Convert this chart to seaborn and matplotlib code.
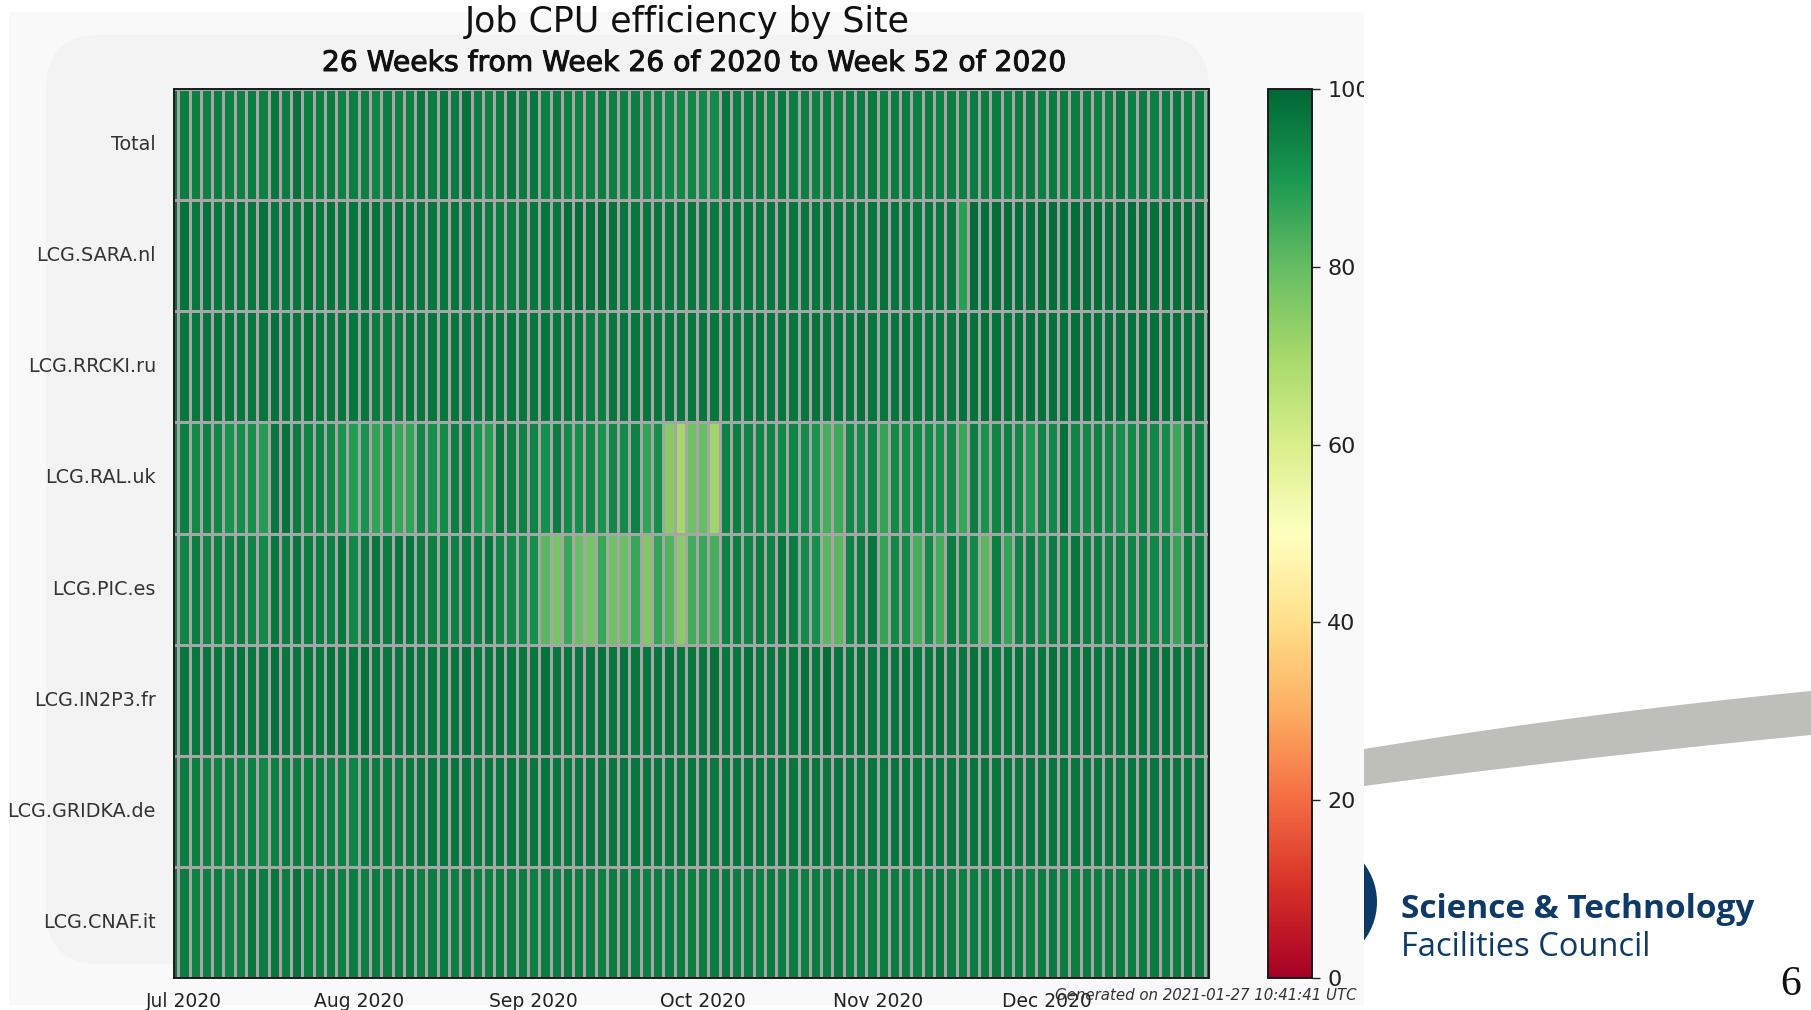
import numpy as np
import pandas as pd
import matplotlib
matplotlib.use("Agg")
import matplotlib.pyplot as plt
import matplotlib.patheffects as pe
from matplotlib.patches import Rectangle, FancyBboxPatch, Circle, Polygon
import seaborn as sns

# ---- data: CPU efficiency (%) per site, 2-day bins ----
sites = ["Total", "LCG.SARA.nl", "LCG.RRCKI.ru", "LCG.RAL.uk",
         "LCG.PIC.es", "LCG.IN2P3.fr", "LCG.GRIDKA.de", "LCG.CNAF.it"]

total = [96.7, 95.6, 95.0, 94.6, 95.6, 94.6, 94.2, 95.6, 94.6, 96.7,
         95.6, 97.3, 95.0, 95.6, 95.8, 94.6, 95.0, 95.3, 94.0, 95.5,
         94.5, 95.0, 96.5, 95.8, 96.5, 95.8, 97.3, 95.6, 94.2, 95.8,
         96.8, 95.8, 96.5, 95.0, 95.8, 95.0, 94.5, 94.8, 95.8, 95.3,
         94.8, 95.0, 94.0, 94.2, 93.2, 93.2, 93.4, 93.2, 92.7, 96.7,
         95.8, 95.6, 95.8, 95.2, 96.4, 95.6, 95.0, 94.8, 95.4, 95.2,
         95.8, 95.6, 96.2, 95.0, 95.4, 95.8, 95.2, 95.6, 94.8, 95.6,
         95.0, 96.0, 95.4, 95.8, 95.0, 95.6, 96.2, 95.2, 95.8, 96.0,
         95.4, 95.6, 95.2, 95.3, 96.5, 95.0, 95.6, 95.0, 95.8, 96.7,
         95.8, 95.6, 95.0]

sara = [98.5, 97.5, 97.0, 97.3, 96.8, 97.2, 97.0, 96.6, 97.4, 97.0,
        96.8, 97.2, 97.5, 96.9, 97.3, 96.7, 97.0, 97.3, 97.3, 96.7,
        97.3, 96.8, 97.0, 96.5, 96.8, 97.2, 96.9, 96.6, 95.8, 95.8,
        95.6, 96.5, 96.8, 97.0, 96.9, 98.5, 98.5, 98.3, 98.5, 97.5,
        97.0, 97.2, 96.8, 97.0, 96.5, 96.6, 96.5, 96.8, 96.4, 97.2,
        97.0, 96.8, 97.0, 96.8, 97.2, 96.6, 97.0, 96.9, 97.4, 96.8,
        97.1, 96.7, 97.0, 97.3, 96.9, 97.1, 96.8, 97.0, 97.2, 96.8,
        88.0, 98.6, 98.4, 98.8, 98.5, 98.7, 98.3, 98.6, 98.8, 98.4,
        98.6, 98.5, 98.7, 98.3, 98.6, 98.8, 98.5, 98.4, 98.7, 98.6,
        98.5, 98.8, 98.6]

rrcki = [97.5, 96.8, 97.2, 96.9, 97.4, 97.0, 96.6, 97.2, 96.9, 97.3,
         97.0, 96.8, 97.4, 97.1, 96.9, 97.2, 96.7, 96.7, 95.8, 95.8,
         95.8, 96.5, 96.8, 97.0, 96.6, 97.2, 96.9, 96.5, 97.0, 96.7,
         96.9, 97.2, 96.8, 97.0, 96.6, 96.9, 96.7, 95.6, 95.6, 96.8,
         97.0, 96.7, 97.2, 96.9, 97.1, 96.8, 97.0, 96.6, 96.9, 97.2,
         96.8, 97.0, 97.3, 96.9, 97.1, 96.7, 97.0, 97.4, 96.8, 97.2,
         96.9, 97.3, 97.0, 96.6, 97.1, 97.4, 96.9, 97.2, 97.0, 96.8,
         97.3, 97.5, 97.8, 98.0, 97.6, 97.9, 98.1, 97.7, 98.0, 97.8,
         98.2, 97.9, 98.0, 97.7, 98.1, 97.9, 98.0, 98.2, 97.8, 98.0,
         97.9, 98.1, 98.0]

ral = [95.0, 95.0, 93.0, 94.2, 93.7, 91.0, 92.0, 91.7, 89.0, 96.7,
       97.3, 95.8, 94.0, 94.2, 93.0, 91.0, 89.0, 91.0, 86.8, 90.8,
       86.0, 86.8, 93.2, 91.5, 92.9, 95.0, 95.8, 90.8, 89.0, 96.7,
       95.0, 94.2, 93.8, 91.5, 95.6, 92.9, 91.7, 93.2, 91.0, 93.3,
       92.7, 94.2, 86.8, 92.0, 74.3, 70.0, 78.2, 80.0, 71.0, 94.2,
       95.0, 94.0, 93.8, 94.0, 93.3, 94.0, 92.7, 91.0, 84.0, 85.4,
       93.0, 92.9, 94.0, 86.5, 92.7, 92.0, 93.3, 92.7, 91.7, 93.3,
       86.0, 95.6, 91.0, 93.8, 94.2, 93.3, 89.5, 94.0, 93.3, 97.3,
       94.0, 93.3, 94.2, 93.3, 91.7, 93.3, 94.2, 93.3, 92.9, 86.0,
       95.0, 95.0, 95.0]

pic = [95.0, 94.0, 95.6, 94.0, 95.0, 94.2, 95.6, 94.0, 92.9, 96.7,
       95.6, 96.5, 95.6, 95.6, 95.0, 96.5, 93.3, 95.6, 96.5, 95.8,
       96.5, 96.7, 95.6, 95.0, 95.6, 94.2, 95.6, 95.6, 96.7, 94.0,
       93.3, 92.9, 91.7, 81.4, 77.5, 86.0, 79.3, 77.5, 86.0, 78.2,
       79.3, 86.0, 75.7, 86.5, 82.5, 74.3, 84.5, 86.0, 84.0, 94.2,
       95.0, 94.0, 95.6, 94.2, 96.7, 95.6, 92.9, 91.7, 81.4, 81.4,
       94.2, 95.6, 96.7, 86.5, 93.3, 92.9, 84.0, 92.7, 84.6, 95.6,
       94.0, 93.3, 81.4, 95.0, 86.5, 94.2, 95.6, 93.3, 95.6, 95.0,
       96.7, 95.0, 95.6, 94.2, 95.0, 94.0, 94.2, 93.3, 94.0, 86.5,
       95.0, 95.0, 95.0]

in2p3 = [97.3, 96.8, 97.0, 96.5, 97.2, 96.9, 97.4, 96.7, 97.0, 97.5,
         96.8, 97.2, 96.6, 97.1, 97.4, 96.9, 97.0, 97.3, 96.8, 97.1,
         96.7, 97.4, 97.0, 96.8, 97.2, 96.9, 97.5, 97.0, 96.7, 97.3,
         96.9, 97.1, 96.6, 97.4, 96.8, 97.0, 97.2, 96.9, 97.6, 97.0,
         97.3, 96.8, 97.1, 96.9, 97.4, 97.2, 96.8, 97.0, 97.3, 96.7,
         97.1, 97.5, 96.9, 97.2, 97.0, 96.8, 97.4, 97.0, 98.5, 97.1,
         96.9, 97.3, 97.0, 96.7, 97.2, 97.5, 96.9, 97.1, 97.4, 96.8,
         97.0, 97.3, 96.9, 97.2, 97.0, 97.5, 96.8, 97.1, 97.4, 97.0,
         96.9, 97.3, 97.1, 96.8, 97.2, 97.4, 97.0, 96.9, 97.3, 97.1,
         97.0, 97.2, 97.4]

gridka = [96.5, 95.5, 95.0, 94.6, 94.2, 95.0, 94.4, 94.8, 93.4, 95.2,
          95.8, 95.4, 95.0, 95.6, 95.2, 94.8, 94.0, 95.6, 95.8, 96.0,
          95.8, 96.4, 96.8, 96.5, 97.0, 96.6, 96.9, 96.4, 96.8, 97.1,
          96.5, 96.9, 96.6, 97.0, 96.7, 96.4, 96.9, 97.2, 96.6, 96.8,
          97.0, 96.5, 96.9, 96.7, 97.1, 96.6, 96.8, 97.0, 96.4, 96.9,
          96.7, 97.2, 96.6, 96.9, 97.0, 96.5, 96.8, 97.1, 96.7, 96.9,
          96.6, 97.0, 96.8, 96.5, 97.1, 96.9, 96.7, 97.2, 96.8, 96.6,
          97.0, 96.9, 96.7, 97.1, 96.8, 96.5, 97.0, 96.9, 96.7, 97.2,
          96.8, 96.6, 97.0, 96.9, 97.1, 96.8, 97.0, 96.7, 97.2, 96.9,
          97.0, 96.8, 97.1]

cnaf = [97.0, 95.6, 94.2, 95.0, 95.8, 94.0, 94.6, 96.5, 95.6, 96.7,
        95.6, 97.3, 95.0, 95.6, 95.8, 95.0, 95.6, 95.2, 96.0, 95.4,
        95.8, 96.2, 95.0, 95.6, 95.9, 95.3, 96.1, 95.7, 95.2, 95.8,
        96.0, 95.5, 95.1, 95.9, 95.6, 96.2, 95.4, 95.8, 95.0, 95.7,
        96.1, 95.5, 95.3, 95.9, 95.6, 96.0, 95.2, 95.8, 95.5, 96.3,
        95.4, 95.7, 95.1, 95.9, 95.6, 96.0, 95.3, 95.8, 95.5, 96.1,
        95.2, 95.7, 95.9, 95.4, 96.0, 95.6, 95.2, 95.8, 96.1, 95.5,
        95.3, 95.9, 95.6, 96.2, 95.4, 95.7, 95.0, 95.8, 96.0, 95.5,
        95.3, 95.9, 95.6, 95.6, 95.8, 95.0, 95.6, 95.8, 95.6, 95.8,
        96.7, 95.6, 96.5]

bin_start = pd.date_range("2020-06-28", periods=len(total), freq="2D")
month_starts = pd.to_datetime(["2020-07-01", "2020-08-01", "2020-09-01",
                               "2020-10-01", "2020-11-01", "2020-12-01"])
month_labels = ["Jul 2020", "Aug 2020", "Sep 2020", "Oct 2020",
                "Nov 2020", "Dec 2020"]

df = pd.DataFrame([total, sara, rrcki, ral, pic, in2p3, gridka, cnaf],
                  index=sites, columns=bin_start)

# ---- figure ----
plt.rcParams["font.family"] = ["DejaVu Sans"]
W, H = 1811, 1010
fig = plt.figure(figsize=(W / 100, H / 100), dpi=100, facecolor="white")


def fx(px):
    return px / W


def fy(py):
    return 1 - py / H


# plot canvas background and rounded inner panel
fig.patches.append(Rectangle((fx(9), fy(1005)), fx(1364) - fx(9), fy(12) - fy(1005),
                             transform=fig.transFigure, facecolor="#f9f9f9",
                             edgecolor="none", zorder=-3))
fig.patches.append(FancyBboxPatch((fx(46), fy(964)), fx(1209) - fx(46), fy(35) - fy(964),
                                  boxstyle="round,pad=0,rounding_size=0.03",
                                  mutation_aspect=W / H,
                                  transform=fig.transFigure, facecolor="#f3f3f3",
                                  edgecolor="none", zorder=-2))

ax = fig.add_axes([fx(174), fy(978), fx(1209) - fx(174), fy(89) - fy(978)])
cax = fig.add_axes([fx(1268), fy(978), fx(1312) - fx(1268), fy(89) - fy(978)])

sns.heatmap(df, ax=ax, cbar_ax=cax, cmap="RdYlGn", vmin=0, vmax=100,
            linewidths=0.75, linecolor="#a6a6a6",
            xticklabels=False, yticklabels=sites)

ax.set_xlim(0.62, len(total) - 0.62)
ax.set_ylim(len(sites), 0)

tick_pos = (month_starts - bin_start[0]).days / 2.0
ax.set_xticks(tick_pos)
ax.set_xticklabels(month_labels, fontsize=13.5, color="#222222")
ax.set_yticklabels(sites, rotation=0, fontsize=13.8, color="#333333")
ax.tick_params(axis="x", length=0, pad=10)
ax.tick_params(axis="y", length=0, pad=13)
ax.set_xlabel("")
ax.set_ylabel("")
for sp in ax.spines.values():
    sp.set_visible(True)
    sp.set_color("#1a1a1a")
    sp.set_linewidth(1.4)

cbar = ax.collections[0].colorbar
cbar.set_ticks([0, 20, 40, 60, 80, 100])
cax.yaxis.set_ticks_position("right")
cax.tick_params(axis="y", labelsize=16, length=6, width=1.0, color="#222222",
                labelcolor="#222222", right=True, direction="out", pad=5)
cbar.outline.set_visible(True)
cbar.outline.set_edgecolor("#1a1a1a")
cbar.outline.set_linewidth(1.4)

# titles
fig.text(fx(687), fy(22), "Job CPU efficiency by Site", ha="center", va="center",
         fontsize=25, color="#111111")
fig.text(fx(695), fy(63), "26 Weeks from Week 26 of 2020 to Week 52 of 2020",
         ha="center", va="center", fontsize=20.3, color="#111111",
         path_effects=[pe.withStroke(linewidth=0.7, foreground="#111111")])
fig.text(fx(1357), fy(996), "Generated on 2021-01-27 10:41:41 UTC", ha="right",
         va="center", fontsize=10.8, style="italic", color="#333333", zorder=4)

# slide area to the right of the plot canvas
cover = Rectangle((fx(1364), 0), 1 - fx(1364), 1, transform=fig.transFigure,
                  facecolor="white", edgecolor="none", zorder=5)
fig.patches.append(cover)

sx = np.linspace(1364, 1811, 40)
st = (sx - 1364) / (1811 - 1364)
top_edge = 749 - 58 * (1.25 * st - 0.25 * st ** 2)
bot_edge = 786 - 51 * (1.15 * st - 0.15 * st ** 2)
verts = [(fx(a), fy(b)) for a, b in zip(sx, top_edge)] + \
        [(fx(a), fy(b)) for a, b in zip(sx[::-1], bot_edge[::-1])]
swoosh = Polygon(verts, closed=True, transform=fig.transFigure, facecolor="#bebfb9",
                 edgecolor="none", zorder=6)
fig.patches.append(swoosh)

logo = Circle((1313.5 / 100, (H - 902) / 100), 0.635, transform=fig.dpi_scale_trans,
              facecolor="#0c3a68", edgecolor="none", zorder=6)
fig.patches.append(logo)
logo.set_clip_path(cover)

fig.text(fx(1401), fy(909), "Science & Technology", ha="left", va="center",
         fontsize=24, fontweight="bold", family=["Open Sans", "DejaVu Sans"],
         color="#0d3a66", zorder=7)
fig.text(fx(1401), fy(947), "Facilities Council", ha="left", va="center",
         fontsize=23.5, family=["Open Sans", "DejaVu Sans"],
         color="#0d3a66", zorder=7)
fig.text(fx(1791), fy(985), "6", ha="center", va="center", fontsize=30,
         family=["Liberation Serif", "DejaVu Serif"], color="#111111", zorder=7)

fig.savefig("out.png", dpi=100, facecolor="white")
